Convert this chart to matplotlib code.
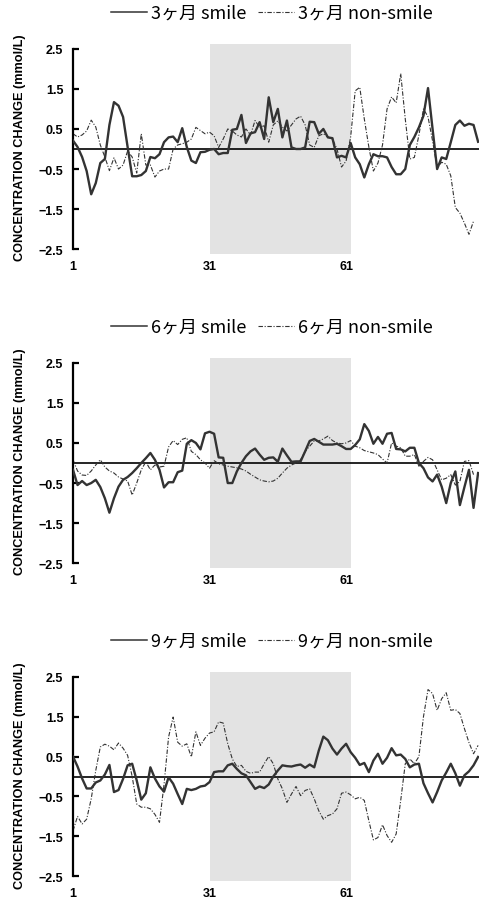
import matplotlib
matplotlib.use("Agg")
import matplotlib.pyplot as plt
import numpy as np

months = ['3ヶ月', '6ヶ月', '9ヶ月']

smile_3 = [0.21, 0.05, -0.2, -0.55, -1.13, -0.85, -0.35, -0.25, 0.6, 1.17,
           1.08, 0.8, 0.05, -0.68, -0.68, -0.65, -0.55, -0.2, -0.23, -0.13,
           0.17, 0.29, 0.31, 0.17, 0.52, 0.05, -0.29, -0.35, -0.08, -0.07,
           -0.02, 0.0, -0.13, -0.1, -0.1, 0.48, 0.5, 0.85, 0.15, 0.39,
           0.42, 0.67, 0.25, 1.29, 0.67, 1.0, 0.29, 0.71, 0.04, 0.0,
           0.0, 0.04, 0.68, 0.67, 0.38, 0.5, 0.29, 0.27, -0.21, -0.17,
           -0.21, 0.15, -0.21, -0.38, -0.71, -0.38, -0.13, -0.18, -0.18, -0.21,
           -0.45, -0.63, -0.63, -0.5, 0.1, 0.3, 0.54, 0.83, 1.52, 0.5,
           -0.5, -0.21, -0.25, 0.17, 0.6, 0.71, 0.58, 0.63, 0.6, 0.18]
nonsmile_3 = [0.38, 0.3, 0.35, 0.45, 0.72, 0.55, 0.1, -0.2, -0.54, -0.22,
              -0.5, -0.4, -0.05, -0.2, -0.6, 0.38, -0.4, -0.4, -0.7, -0.55,
              -0.5, -0.5, 0.0, 0.1, 0.13, 0.17, 0.25, 0.54, 0.46, 0.38,
              0.42, 0.33, 0.04, 0.25, 0.5, 0.45, 0.35, 0.3, 0.5, 0.35,
              0.71, 0.54, 0.58, 0.17, 0.6, 0.7, 0.55, 0.45, 0.6, 0.75,
              0.82, 0.6, 0.1, 0.04, 0.33, 0.38, 0.3, 0.25, 0.0, -0.45,
              -0.3, 0.3, 1.45, 1.54, 0.75, 0.05, -0.55, -0.35, 0.1, 1.0,
              1.3, 1.15, 1.88, 0.75, -0.25, -0.21, 0.35, 1.0, 0.8, 0.2,
              -0.46, -0.33, -0.38, -0.67, -1.46, -1.6, -1.85, -2.13, -1.8]

smile_6 = [-0.17, -0.55, -0.45, -0.55, -0.5, -0.42, -0.6, -0.88, -1.24, -0.88,
           -0.59, -0.42, -0.35, -0.25, -0.13, 0.0, 0.12, 0.25, 0.08, -0.17,
           -0.61, -0.48, -0.48, -0.23, -0.19, 0.48, 0.57, 0.5, 0.34, 0.74,
           0.78, 0.73, 0.14, 0.13, -0.5, -0.5, -0.21, 0.0, 0.17, 0.29,
           0.36, 0.21, 0.08, 0.13, 0.14, 0.03, 0.36, 0.19, 0.03, 0.04,
           0.04, 0.29, 0.55, 0.6, 0.53, 0.46, 0.46, 0.46, 0.48, 0.42,
           0.35, 0.35, 0.45, 0.59, 0.97, 0.8, 0.48, 0.65, 0.48, 0.73,
           0.75, 0.35, 0.34, 0.29, 0.38, 0.38, 0.0, -0.13, -0.36, -0.46,
           -0.29, -0.59, -1.0, -0.5, -0.21, -1.05, -0.6, -0.17, -1.12, -0.25]
nonsmile_6 = [0.08, -0.2, -0.3, -0.31, -0.2, -0.05, 0.08, -0.1, -0.2, -0.25,
              -0.35, -0.4, -0.45, -0.8, -0.5, -0.17, 0.03, -0.17, -0.05, -0.1,
              -0.08, 0.4, 0.56, 0.46, 0.59, 0.63, 0.29, 0.21, 0.08, 0.0,
              -0.13, 0.06, -0.02, -0.05, -0.08, -0.1, -0.12, -0.15, -0.2, -0.28,
              -0.35, -0.42, -0.45, -0.47, -0.45, -0.38, -0.25, -0.13, -0.05, 0.0,
              0.08, 0.29, 0.42, 0.55, 0.55, 0.6, 0.67, 0.56, 0.5, 0.48,
              0.5, 0.56, 0.42, 0.38, 0.31, 0.28, 0.25, 0.21, 0.1, 0.0,
              0.5, 0.42, 0.38, 0.17, 0.17, 0.21, -0.08, 0.04, 0.14, 0.08,
              -0.17, -0.42, -0.38, -0.29, -0.55, -0.46, 0.04, 0.06, -0.29]

smile_9 = [0.5, 0.25, -0.05, -0.3, -0.3, -0.15, -0.1, 0.05, 0.29, -0.39,
           -0.34, -0.06, 0.28, 0.32, -0.1, -0.58, -0.42, 0.23, -0.05, -0.25,
           -0.38, -0.02, -0.18, -0.44, -0.69, -0.31, -0.34, -0.31, -0.25, -0.23,
           -0.14, 0.11, 0.13, 0.13, 0.28, 0.32, 0.19, 0.08, 0.03, -0.14,
           -0.31, -0.25, -0.29, -0.2, 0.0, 0.15, 0.28, 0.26, 0.25, 0.28,
           0.3, 0.22, 0.3, 0.23, 0.65, 1.0, 0.91, 0.7, 0.55, 0.7,
           0.82, 0.61, 0.47, 0.29, 0.34, 0.11, 0.4, 0.57, 0.32, 0.47,
           0.71, 0.53, 0.55, 0.44, 0.23, 0.3, 0.32, -0.17, -0.42, -0.65,
           -0.39, -0.1, 0.1, 0.32, 0.08, -0.23, 0.03, 0.13, 0.28, 0.49]
nonsmile_9 = [-1.36, -1.0, -1.19, -1.07, -0.56, 0.15, 0.74, 0.81, 0.76, 0.67,
              0.84, 0.71, 0.53, 0.0, -0.69, -0.77, -0.77, -0.81, -0.95, -1.15,
              -0.2, 0.99, 1.49, 0.86, 0.76, 0.82, 0.49, 1.12, 0.78, 0.96,
              1.09, 1.12, 1.37, 1.34, 0.82, 0.44, 0.25, 0.28, 0.13, 0.08,
              0.11, 0.11, 0.32, 0.5, 0.32, -0.06, -0.31, -0.65, -0.44, -0.25,
              -0.48, -0.35, -0.31, -0.56, -0.86, -1.07, -0.98, -0.94, -0.81, -0.42,
              -0.39, -0.46, -0.56, -0.52, -0.6, -1.11, -1.59, -1.53, -1.21, -1.48,
              -1.65, -1.44, -0.6, 0.32, 0.44, 0.32, 0.5, 1.5, 2.18, 2.08,
              1.66, 1.95, 2.1, 1.66, 1.68, 1.58, 1.2, 0.85, 0.57, 0.78]

x_ticks = [1, 31, 61]
y_ticks = [2.5, 1.5, 0.5, -0.5, -1.5, -2.5]
y_label = 'CONCENTRATION CHANGE (mmol/L)'
stim_start, stim_end = 31, 62

smiles = [smile_3, smile_6, smile_9]
nonsmiles = [nonsmile_3, nonsmile_6, nonsmile_9]

latin = 'Liberation Sans'
cjk = ['Noto Sans CJK JP', 'DejaVu Sans']

W, H = 479, 903
fig = plt.figure(figsize=(W / 100, H / 100), dpi=100)
fig.patch.set_facecolor('white')
panels = [(45, 255), (359, 569), (673, 882)]
left, right = 73, 479

for (top, bottom), m, s, ns in zip(panels, months, smiles, nonsmiles):
    ax = fig.add_axes([left / W, 1 - bottom / H, (right - left) / W, (bottom - top) / H])
    ax.axvspan(stim_start, stim_end, color='#e3e3e3', lw=0, zorder=0)
    ax.axhline(0, color='black', lw=1.2, zorder=1)
    ax.plot(np.arange(1, len(s) + 1), s, color='#333333', lw=1.7,
            label=f'{m} smile', zorder=3)
    ax.plot(np.arange(1, len(ns) + 1), ns, color='#333333', lw=0.8,
            ls=(0, (4, 1.5, 1, 1.5)), label=f'{m} non-smile', zorder=2)
    ax.set_xlim(1, 90.2)
    ax.set_ylim(-2.62, 2.62)
    for sp in ['top', 'right', 'bottom']:
        ax.spines[sp].set_visible(False)
    ax.spines['left'].set_bounds(-2.5, 2.5)
    ax.spines['left'].set_linewidth(1.6)
    ax.set_yticks(y_ticks)
    ax.set_yticklabels([f'{v:.1f}'.replace('-', '\u2212') for v in y_ticks],
                       fontweight='bold', family=latin, fontsize=9)
    ax.tick_params(axis='y', direction='in', length=4, width=1.6, pad=7)
    ax.set_xticks(x_ticks)
    ax.set_xticklabels([str(v) for v in x_ticks], fontweight='bold',
                       family=latin, fontsize=9)
    ax.tick_params(axis='x', length=0, pad=4)
    ax.set_ylabel(y_label, fontweight='bold', family=latin, fontsize=9.2)
    ax.yaxis.set_label_coords((26 - left) / (right - left), 0.51)
    leg = ax.legend(loc='center', bbox_to_anchor=(0.49, 1 + 31 / (bottom - top)),
                    ncol=2, frameon=False, prop={'family': cjk, 'size': 13},
                    handlelength=2.0, handletextpad=0.25, columnspacing=0.6,
                    borderaxespad=0)
    leg.get_lines()[0].set_linewidth(1.1)

fig.savefig('out.png', dpi=100, facecolor='white')
